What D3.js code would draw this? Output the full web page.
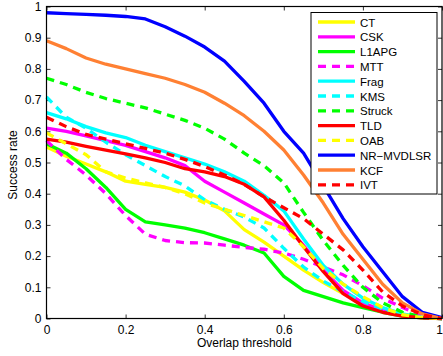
<!DOCTYPE html>
<html>
<head>
<meta charset="utf-8">
<script src="https://d3js.org/d3.v7.min.js"></script>
<style>
  body { margin: 0; background: #fff; }
  svg { display: block; font-family: "Liberation Sans", Arial, sans-serif; }
</style>
</head>
<body>
<script>
'use strict';

// overlap thresholds (x axis)
const thresholds = [0, 0.05, 0.1, 0.15, 0.2, 0.25, 0.3, 0.35, 0.4, 0.45, 0.5,
  0.55, 0.6, 0.65, 0.7, 0.75, 0.8, 0.85, 0.9, 0.95, 1];

// success rates, one array per tracker
const ct = [0.55, 0.52, 0.495, 0.47, 0.44, 0.43, 0.42, 0.405, 0.38, 0.345, 0.285,
  0.245, 0.2, 0.155, 0.115, 0.08, 0.05, 0.025, 0.01, 0.003, 0];
const csk = [0.61, 0.6, 0.585, 0.57, 0.555, 0.535, 0.515, 0.49, 0.44, 0.405, 0.37,
  0.335, 0.3, 0.235, 0.155, 0.09, 0.05, 0.025, 0.01, 0.003, 0];
const l1apg = [0.56, 0.53, 0.48, 0.42, 0.35, 0.31, 0.3, 0.29, 0.275, 0.255, 0.235,
  0.21, 0.135, 0.09, 0.07, 0.05, 0.035, 0.02, 0.008, 0.002, 0];
const mtt = [0.57, 0.51, 0.46, 0.4, 0.33, 0.27, 0.25, 0.243, 0.242, 0.235, 0.228,
  0.222, 0.21, 0.19, 0.165, 0.14, 0.105, 0.065, 0.035, 0.01, 0];
const frag = [0.66, 0.64, 0.615, 0.595, 0.58, 0.555, 0.535, 0.515, 0.495, 0.47, 0.44,
  0.395, 0.345, 0.255, 0.17, 0.11, 0.065, 0.035, 0.015, 0.004, 0];
const kms = [0.71, 0.645, 0.61, 0.565, 0.525, 0.49, 0.455, 0.425, 0.38, 0.35, 0.325,
  0.29, 0.225, 0.165, 0.12, 0.085, 0.055, 0.03, 0.012, 0.003, 0];
const struck = [0.77, 0.75, 0.725, 0.705, 0.69, 0.675, 0.655, 0.635, 0.61, 0.575, 0.53,
  0.49, 0.435, 0.34, 0.25, 0.17, 0.1, 0.05, 0.02, 0.005, 0];
const tld = [0.575, 0.565, 0.552, 0.54, 0.528, 0.515, 0.5, 0.48, 0.47, 0.455, 0.43,
  0.39, 0.315, 0.23, 0.15, 0.08, 0.04, 0.02, 0.008, 0.002, 0];
const oab = [0.595, 0.56, 0.525, 0.47, 0.45, 0.435, 0.42, 0.4, 0.37, 0.35, 0.33,
  0.31, 0.29, 0.23, 0.16, 0.11, 0.07, 0.035, 0.012, 0.003, 0];
const nrmvdlsr = [0.98, 0.977, 0.975, 0.972, 0.968, 0.96, 0.935, 0.905, 0.87, 0.825, 0.76,
  0.69, 0.6, 0.53, 0.425, 0.32, 0.23, 0.15, 0.07, 0.02, 0.003];
const kcf = [0.89, 0.865, 0.835, 0.815, 0.8, 0.785, 0.77, 0.75, 0.725, 0.69, 0.65,
  0.6, 0.54, 0.46, 0.37, 0.27, 0.19, 0.11, 0.05, 0.015, 0];
const ivt = [0.645, 0.615, 0.59, 0.575, 0.56, 0.545, 0.53, 0.51, 0.487, 0.46, 0.43,
  0.39, 0.355, 0.32, 0.27, 0.22, 0.155, 0.085, 0.04, 0.012, 0];

const trackerNames = ['CT', 'CSK', 'L1APG', 'MTT', 'Frag', 'KMS', 'Struck', 'TLD',
  'OAB', 'NR\u2212MVDLSR', 'KCF', 'IVT'];
const trackerValues = [ct, csk, l1apg, mtt, frag, kms, struck, tld, oab, nrmvdlsr, kcf, ivt];

const xTicks = [0, 0.2, 0.4, 0.6, 0.8, 1];
const yTicks = [0, 0.1, 0.2, 0.3, 0.4, 0.5, 0.6, 0.7, 0.8, 0.9, 1];

// line style per tracker (same order as names)
const lineColors = ['#ffff00', '#ff00ff', '#00ff00', '#ff00ff', '#00ffff', '#00ffff',
  '#00ff00', '#ff0000', '#ffff00', '#0000ff', '#ff8033', '#ff0000'];
const lineDashed = [false, false, false, true, false, true, true, false, true, false, false, true];

(function() {

  let svgContainer = "";
  const width = 443, height = 356;
  const plot = { left: 46.5, right: 442, top: 6.5, bottom: 318.5 };

  window.onload = function() {
    svgContainer = d3.select('body')
      .append('svg')
      .attr('width', width)
      .attr('height', height);

    let scales = drawAxes();
    plotData(scales);
    makeLegend();
    makeLabels();
  }

  // box, inward ticks on all four sides, tick labels
  function drawAxes() {
    let xScale = d3.scaleLinear().domain([0, 1]).range([plot.left, plot.right]);
    let yScale = d3.scaleLinear().domain([0, 1]).range([plot.bottom, plot.top]);

    let xAxis = d3.axisBottom(xScale).tickValues(xTicks).tickSize(-4)
      .tickPadding(7).tickFormat(d3.format('~g'));
    let yAxis = d3.axisLeft(yScale).tickValues(yTicks).tickSize(-4)
      .tickPadding(5).tickFormat(d3.format('~g'));

    let gx = svgContainer.append('g')
      .attr('transform', 'translate(0,' + plot.bottom + ')')
      .call(xAxis);
    let gy = svgContainer.append('g')
      .attr('transform', 'translate(' + plot.left + ',0)')
      .call(yAxis);

    // last label sits at the page edge, keep it inside
    gx.selectAll('text').filter((d) => d === 1)
      .attr('text-anchor', 'end')
      .attr('x', 0.5);

    // mirrored ticks on top and right, no labels
    let gTop = svgContainer.append('g')
      .attr('transform', 'translate(0,' + plot.top + ')')
      .call(d3.axisTop(xScale).tickValues(xTicks).tickSize(-4).tickFormat(''));
    let gRight = svgContainer.append('g')
      .attr('transform', 'translate(' + plot.right + ',0)')
      .call(d3.axisRight(yScale).tickValues(yTicks).tickSize(-4).tickFormat(''));

    [gx, gy, gTop, gRight].forEach(function(g) {
      g.select('.domain').remove();
      g.selectAll('line').attr('stroke', '#000').attr('stroke-width', 0.8);
      g.selectAll('text')
        .attr('fill', '#000')
        .style('font-size', '12px')
        .style('font-family', '"Liberation Sans", Arial, sans-serif');
    });

    return { x: xScale, y: yScale };
  }

  function plotData(scales) {
    let line = d3.line()
      .x((d, i) => scales.x(thresholds[i]))
      .y((d) => scales.y(d));

    svgContainer.append('g')
      .selectAll('path')
      .data(trackerValues)
      .enter()
      .append('path')
        .attr('d', line)
        .attr('fill', 'none')
        .attr('stroke', (d, i) => lineColors[i])
        .attr('stroke-width', 3.3)
        .attr('stroke-linejoin', 'round')
        .attr('stroke-dasharray', (d, i) => lineDashed[i] ? '8,6' : null);

    // frame drawn on top of the curves
    svgContainer.append('rect')
      .attr('x', plot.left)
      .attr('y', plot.top)
      .attr('width', plot.right - plot.left)
      .attr('height', plot.bottom - plot.top)
      .attr('fill', 'none')
      .attr('stroke', '#000')
      .attr('stroke-width', 1.2);
  }

  function makeLegend() {
    let legend = svgContainer.append('g');
    let rowStep = 14.8;

    legend.append('rect')
      .attr('x', 311)
      .attr('y', 12.5)
      .attr('width', 126)
      .attr('height', 181.5)
      .attr('fill', '#fff')
      .attr('stroke', '#000')
      .attr('stroke-width', 1);

    let rows = legend.selectAll('.row')
      .data(trackerNames)
      .enter()
      .append('g')
        .attr('class', 'row')
        .attr('transform', (d, i) => 'translate(0,' + (22 + i * rowStep) + ')');

    rows.append('line')
      .attr('x1', 318)
      .attr('x2', 355)
      .attr('stroke', (d, i) => lineColors[i])
      .attr('stroke-width', 3.3)
      .attr('stroke-dasharray', (d, i) => lineDashed[i] ? '8,6' : null);

    rows.append('text')
      .attr('x', 360)
      .attr('y', 4.5)
      .style('font-size', '11.5px')
      .text((d) => d);
  }

  function makeLabels() {
    svgContainer.append('text')
      .attr('x', (plot.left + plot.right) / 2)
      .attr('y', 347)
      .attr('text-anchor', 'middle')
      .style('font-size', '12px')
      .text('Overlap threshold');

    svgContainer.append('text')
      .attr('transform', 'translate(17, 165)rotate(-90)')
      .attr('text-anchor', 'middle')
      .style('font-size', '12px')
      .text('Success rate');
  }

})();
</script>
</body>
</html>
